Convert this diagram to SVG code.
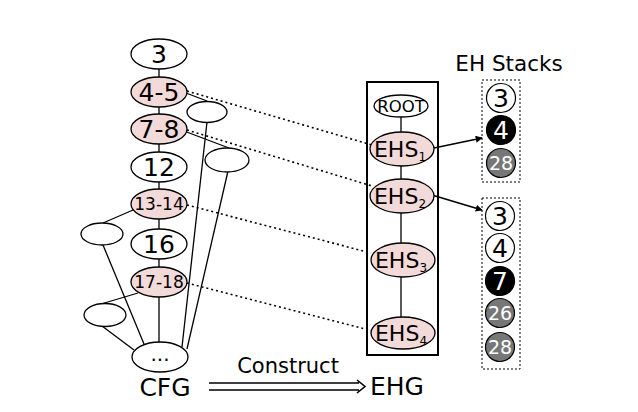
<svg xmlns="http://www.w3.org/2000/svg" width="638" height="412" viewBox="0 0 638 412">
<defs>
<style>
text{font-family:"DejaVu Sans","Liberation Sans",sans-serif;text-anchor:middle;fill:#000}
.n{fill:#fff;stroke:#000;stroke-width:1.3}
.p{fill:#f2dad8;stroke:#000;stroke-width:1.3}
.e{fill:#fff;stroke:#000;stroke-width:1.3}
.l{stroke:#000;stroke-width:1.3;fill:none}
.d{stroke:#000;stroke-width:1.6;fill:none;stroke-dasharray:2 3}
.a{stroke:#000;stroke-width:1.6;fill:none}
.box{fill:none;stroke:#000;stroke-width:1;stroke-dasharray:2 2}
.cw{fill:#fff;stroke:#000;stroke-width:1.2}
.cb{fill:#000;stroke:#000;stroke-width:1.2}
.cg{fill:#777;stroke:#000;stroke-width:1.2}
.big{font-size:25px}
.mid{font-size:17px}
.w{fill:#fff}
</style>
<marker id="ah" viewBox="0 0 10 10" refX="9" refY="5" markerWidth="7" markerHeight="7" markerUnits="userSpaceOnUse" orient="auto">
<path d="M0,0 L10,5 L0,10 z" fill="#000"/>
</marker>
</defs>

<g id="connectors">
<line class="l" x1="159" y1="69" x2="159" y2="77"/>
<line class="l" x1="159" y1="107" x2="159" y2="114"/>
<line class="l" x1="159" y1="144" x2="159" y2="152"/>
<line class="l" x1="159" y1="182" x2="159" y2="189"/>
<line class="l" x1="159" y1="219" x2="159" y2="229"/>
<line class="l" x1="159" y1="259" x2="159" y2="267"/>
<line class="l" x1="159" y1="297" x2="159" y2="342"/>
<line class="l" x1="186" y1="93" x2="207" y2="101"/>
<line class="l" x1="207" y1="122" x2="182" y2="347"/>
<line class="l" x1="184" y1="131" x2="229" y2="148"/>
<line class="l" x1="228" y1="171" x2="187" y2="349"/>
<line class="l" x1="133" y1="210" x2="103" y2="223"/>
<line class="l" x1="103" y1="245" x2="144" y2="344"/>
<line class="l" x1="138" y1="293" x2="101" y2="304"/>
<line class="l" x1="102" y1="326" x2="134" y2="350"/>
<line class="d" x1="187" y1="91" x2="372" y2="145"/>
<line class="d" x1="187" y1="130" x2="372" y2="186"/>
<line class="d" x1="187" y1="205" x2="371" y2="253"/>
<line class="d" x1="187" y1="283" x2="369" y2="330"/>
<line class="l" x1="401" y1="117" x2="401" y2="132"/>
<line class="l" x1="401" y1="166" x2="401" y2="180"/>
<line class="l" x1="401" y1="213" x2="401" y2="244"/>
<line class="l" x1="401" y1="277" x2="401" y2="317"/>
<line class="a" x1="434" y1="148" x2="482" y2="138" marker-end="url(#ah)"/>
<line class="a" x1="432" y1="195" x2="482" y2="210" marker-end="url(#ah)"/>
<path class="a" d="M209,383 H359 M209,390 H359 M357,380 L365,386.5 L357,393"/>
</g>

<g id="cfg3"><ellipse class="n" cx="159" cy="54" rx="28" ry="15"/><text class="big" x="159" y="63">3</text></g>
<g id="cfg4-5"><ellipse class="p" cx="159" cy="92" rx="28" ry="15"/><text class="big" x="159" y="101">4-5</text></g>
<g id="cfg7-8"><ellipse class="p" cx="159" cy="129" rx="28" ry="15"/><text class="big" x="159" y="138">7-8</text></g>
<g id="cfg12"><ellipse class="n" cx="159" cy="167" rx="28" ry="15"/><text class="big" x="159" y="176">12</text></g>
<g id="cfg13-14"><ellipse class="p" cx="159" cy="204" rx="28" ry="15"/><text class="mid" x="159" y="210">13-14</text></g>
<g id="cfg16"><ellipse class="n" cx="159" cy="244" rx="28" ry="15"/><text class="big" x="159" y="253">16</text></g>
<g id="cfg17-18"><ellipse class="p" cx="159" cy="282" rx="28" ry="15"/><text class="mid" x="159" y="288">17-18</text></g>
<g id="cfgdots"><ellipse class="n" cx="160" cy="357" rx="28" ry="15"/><text style="font-size:20px" x="160" y="361">...</text></g>
<g id="sideA"><ellipse class="e" cx="207" cy="112" rx="20" ry="10.5"/></g>
<g id="sideB"><ellipse class="e" cx="227" cy="160" rx="22" ry="12"/></g>
<g id="sideC"><ellipse class="e" cx="102" cy="234" rx="21" ry="11"/></g>
<g id="sideD"><ellipse class="e" cx="105" cy="315" rx="21" ry="11.5"/></g>

<g id="ehg">
<rect x="367" y="82" width="71" height="273" fill="none" stroke="#000" stroke-width="2"/>
</g>
<g id="root"><ellipse class="n" cx="401" cy="106" rx="27" ry="11"/><text style="font-size:16.5px" x="401" y="112">ROOT</text></g>
<g id="ehs1"><ellipse class="p" cx="402" cy="149" rx="32" ry="17"/><text style="font-size:22px" x="400" y="157">EHS<tspan style="font-size:12px" dy="4">1</tspan></text></g>
<g id="ehs2"><ellipse class="p" cx="402" cy="196" rx="32" ry="17"/><text style="font-size:22px" x="400" y="204">EHS<tspan style="font-size:12px" dy="4">2</tspan></text></g>
<g id="ehs3"><ellipse class="p" cx="403" cy="260" rx="32" ry="17"/><text style="font-size:22px" x="401" y="268">EHS<tspan style="font-size:12px" dy="4">3</tspan></text></g>
<g id="ehs4"><ellipse class="p" cx="403" cy="333" rx="32" ry="16"/><text style="font-size:22px" x="401" y="341">EHS<tspan style="font-size:12px" dy="4">4</tspan></text></g>

<g id="stack1">
<rect class="box" x="482" y="80" width="38" height="102"/>
<circle class="cw" cx="501" cy="98" r="14.5"/><text style="font-size:25px" x="501" y="107">3</text>
<circle class="cb" cx="501" cy="130" r="14.5"/><text class="w" style="font-size:25px" x="501" y="139">4</text>
<circle class="cg" cx="501" cy="163" r="14.5"/><text class="w" style="font-size:19px" x="501" y="170">28</text>
</g>
<g id="stack2">
<rect class="box" x="482" y="198" width="38" height="171"/>
<circle class="cw" cx="500" cy="216" r="14.5"/><text style="font-size:25px" x="500" y="225">3</text>
<circle class="cw" cx="500" cy="248" r="14.5"/><text style="font-size:25px" x="500" y="257">4</text>
<circle class="cb" cx="500" cy="281" r="14.5"/><text class="w" style="font-size:25px" x="500" y="290">7</text>
<circle class="cg" cx="500" cy="313" r="14.5"/><text class="w" style="font-size:19px" x="500" y="320">26</text>
<circle class="cg" cx="500" cy="347" r="14.5"/><text class="w" style="font-size:19px" x="500" y="354">28</text>
</g>

<g id="labels">
<text style="font-size:21.5px" x="509" y="71">EH Stacks</text>
<text style="font-size:21px" x="288" y="373">Construct</text>
<text style="font-size:25px" x="165" y="396">CFG</text>
<text style="font-size:25px" x="397" y="395">EHG</text>
</g>
</svg>
